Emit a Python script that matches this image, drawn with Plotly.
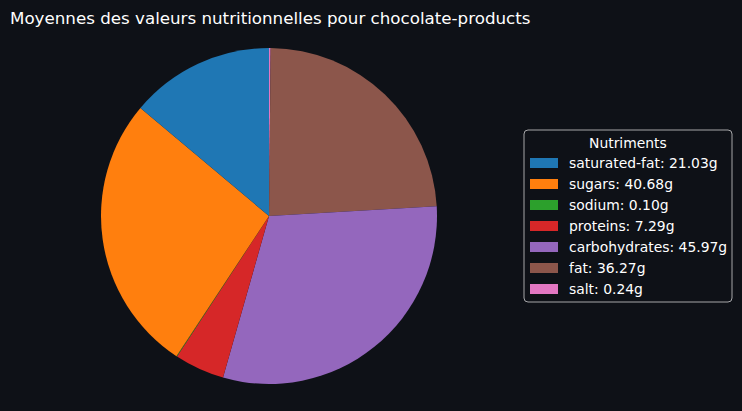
import plotly.graph_objects as go

categories = ["saturated-fat", "sugars", "sodium", "proteins", "carbohydrates", "fat", "salt"]
values = [21.03, 40.68, 0.10, 7.29, 45.97, 36.27, 0.24]
colors = ["#1f77b4", "#ff7f0e", "#2ca02c", "#d62728", "#9467bd", "#8c564b", "#e377c2"]
title_text = "Moyennes des valeurs nutritionnelles pour chocolate-products"
legend_title = "Nutriments"

W, H = 742, 411
BG = "#0e1117"
FONT = "DejaVu Sans"

def px(x):
    return x / W

def py(y):
    return 1 - y / H

cx, cy, r = 269, 216, 168

# slices run counterclockwise from 12 o'clock: draw clockwise in reversed order
fig = go.Figure()
fig.add_trace(go.Pie(
    labels=categories[::-1],
    values=values[::-1],
    marker=dict(colors=colors[::-1], line=dict(width=0)),
    sort=False,
    direction="clockwise",
    rotation=0,
    textinfo="none",
    showlegend=False,
    domain=dict(x=[px(cx - r), px(cx + r)], y=[py(cy + r), py(cy - r)]),
))

shapes = []
annotations = []

# legend frame (rounded)
x0, y0, x1, y1, rr = 524, 130, 732, 302, 4
def P(x, y):
    return f"{px(x)},{py(y)}"
path = (f"M {P(x0+rr, y0)} L {P(x1-rr, y0)} Q {P(x1, y0)} {P(x1, y0+rr)} "
        f"L {P(x1, y1-rr)} Q {P(x1, y1)} {P(x1-rr, y1)} "
        f"L {P(x0+rr, y1)} Q {P(x0, y1)} {P(x0, y1-rr)} "
        f"L {P(x0, y0+rr)} Q {P(x0, y0)} {P(x0+rr, y0)} Z")
shapes.append(dict(type="path", xref="paper", yref="paper", path=path,
                   line=dict(color="#a6a7a9", width=1), fillcolor=BG))

annotations.append(dict(text=legend_title, x=px(628), y=py(143), xref="paper", yref="paper",
                        xanchor="center", yanchor="middle", showarrow=False,
                        font=dict(family=FONT, size=13.9, color="white")))
for i, (c, v, col) in enumerate(zip(categories, values, colors)):
    yc = 163 + i * 21
    shapes.append(dict(type="rect", xref="paper", yref="paper",
                       x0=px(530), x1=px(558), y0=py(yc - 5), y1=py(yc + 5),
                       fillcolor=col, line=dict(width=0)))
    annotations.append(dict(text=f"{c}: {v:.2f}g", x=px(567), y=py(yc), xref="paper", yref="paper",
                            xanchor="left", yanchor="middle", showarrow=False,
                            font=dict(family=FONT, size=13.9, color="white")))

annotations.append(dict(text=title_text, x=px(8), y=py(18), xref="paper", yref="paper",
                        xanchor="left", yanchor="middle", showarrow=False,
                        font=dict(family=FONT, size=16.7, color="white")))

fig.update_layout(
    width=W, height=H,
    margin=dict(l=0, r=0, t=0, b=0),
    paper_bgcolor=BG, plot_bgcolor=BG,
    shapes=shapes, annotations=annotations,
    font=dict(family=FONT, color="white"),
)

fig.write_html("out.html")
